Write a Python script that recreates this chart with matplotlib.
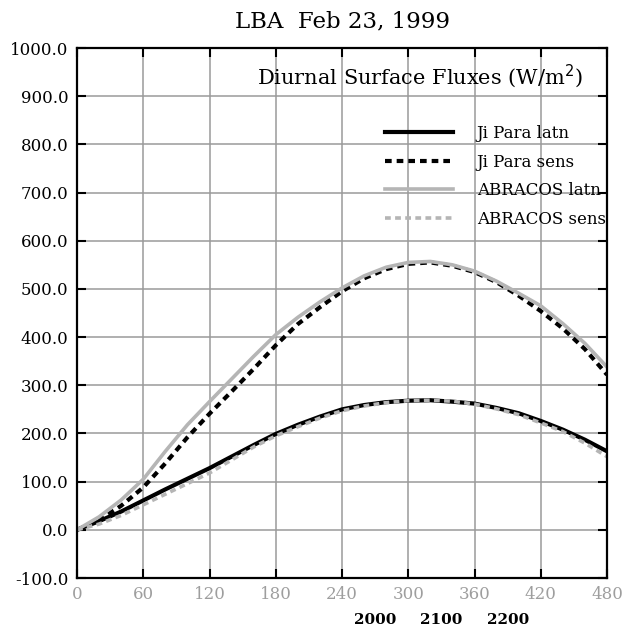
import matplotlib
matplotlib.use('Agg')
import matplotlib.pyplot as plt
import matplotlib.transforms as mtransforms

# Time (minutes) and flux values (W/m^2)
minutes = [0, 20, 40, 60, 80, 100, 120, 140, 160, 180, 200, 220, 240,
           260, 280, 300, 320, 340, 360, 380, 400, 420, 440, 460, 480]
jipara_latn = [0, 18, 38, 61, 84, 106, 128, 152, 176, 199, 218, 235, 250,
               259, 265, 268, 269, 266, 262, 253, 242, 226, 208, 187, 163]
jipara_sens = [0, 20, 50, 88, 138, 192, 241, 287, 334, 383, 427, 462, 495,
               522, 541, 552, 555, 548, 535, 514, 486, 454, 418, 375, 322]
abracos_latn = [0, 27, 62, 105, 163, 218, 266, 313, 360, 405, 441, 473, 502,
                527, 545, 555, 557, 550, 537, 516, 491, 465, 428, 387, 338]
abracos_sens = [0, 12, 30, 52, 74, 96, 118, 145, 172, 195, 214, 232, 247,
                257, 264, 268, 269, 267, 261, 251, 239, 222, 204, 180, 152]

x_ticks = [0, 60, 120, 180, 240, 300, 360, 420, 480]
y_ticks = [-100, 0, 100, 200, 300, 400, 500, 600, 700, 800, 900, 1000]
hour_labels = ['2000', '2100', '2200']
hour_pos = [270, 330, 390]

serif = 'DejaVu Serif'
gray = '#b5b5b5'
dots = (0, (1.6, 1.2))

fig = plt.figure(figsize=(6.25, 6.3), dpi=100)
ax = fig.add_axes([0.1232, 0.0825, 0.848, 0.8413])

ax.plot(minutes, jipara_latn, color='black', lw=3, label='Ji Para latn')
ax.plot(minutes, jipara_sens, color='black', lw=3, ls=dots,
        dash_capstyle='butt', label='Ji Para sens')
ax.plot(minutes, abracos_latn, color=gray, lw=2.6, label='ABRACOS latn')
ax.plot(minutes, abracos_sens, color=gray, lw=2.6, ls=dots,
        dash_capstyle='butt', label='ABRACOS sens')

ax.set_xlim(0, 480)
ax.set_ylim(-100, 1000)
ax.set_xticks(x_ticks)
ax.set_yticks(y_ticks)
ax.set_xticklabels([str(v) for v in x_ticks], family=serif, fontsize=12,
                   color='#9e9e9e')
ax.set_yticklabels(['%.1f' % v for v in y_ticks], family=serif, fontsize=12,
                   color='black')
ax.tick_params(direction='in', length=6.5, width=1.5, top=True, right=True,
               pad=6)
ax.grid(True, color='#9a9a9a', lw=1.1)
ax.set_axisbelow(True)
for s in ax.spines.values():
    s.set_linewidth(1.6)

fig.text(0.548, 0.966, 'LBA  Feb 23, 1999', family=serif, fontsize=16.5,
         ha='center', va='center')
ax.text(0.955, 0.947, 'Diurnal Surface Fluxes (W/m$^2$)', family=serif,
        fontsize=15, ha='right', va='center', transform=ax.transAxes)

leg = ax.legend(loc='upper left', bbox_to_anchor=(0.581, 0.855),
                frameon=False, prop={'family': serif, 'size': 12},
                handlelength=4.1, handletextpad=1.4, labelspacing=0.7,
                borderpad=0, borderaxespad=0)

# local hour labels below the minute axis
trans = mtransforms.blended_transform_factory(ax.transData, ax.transAxes)
for pos, lab in zip(hour_pos, hour_labels):
    ax.text(pos, -0.079, lab, transform=trans, ha='center', va='center',
            family=serif, fontsize=11, fontweight='bold')

fig.savefig('out.png', dpi=100)
